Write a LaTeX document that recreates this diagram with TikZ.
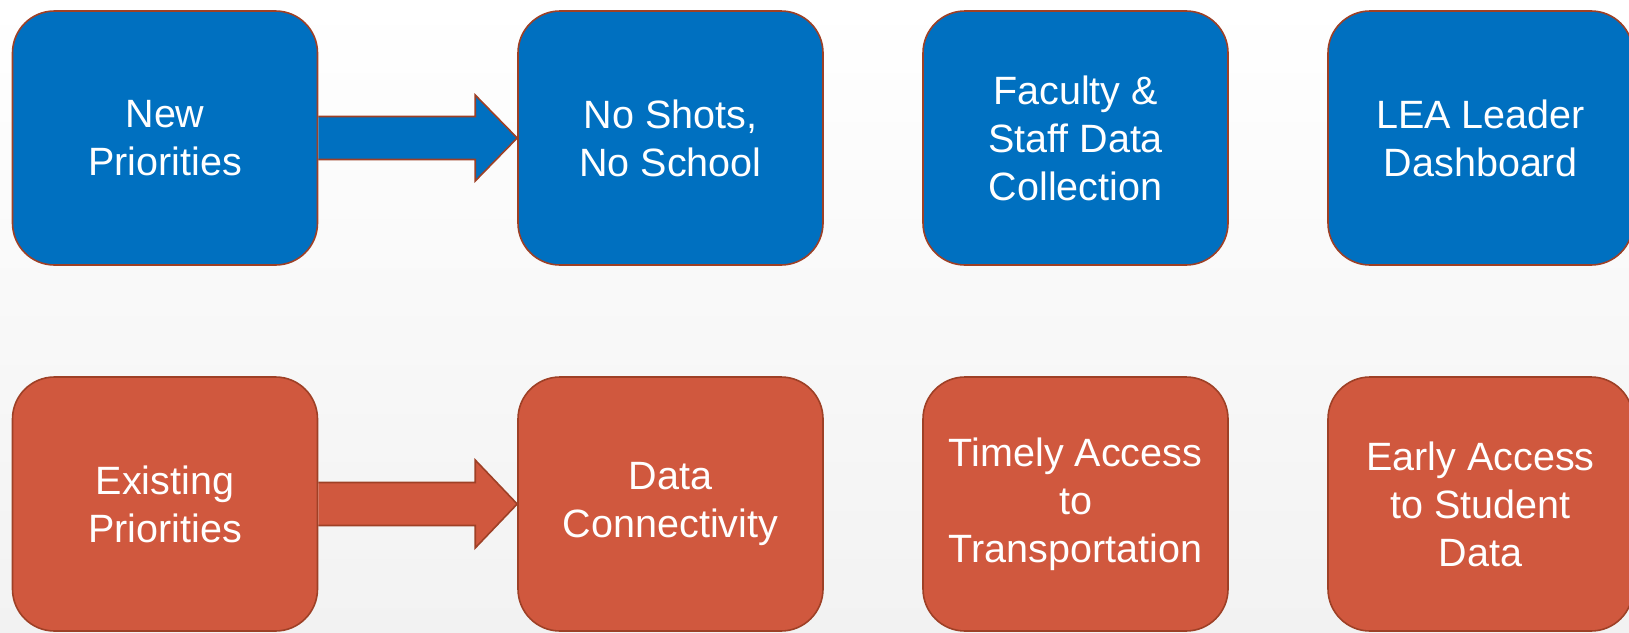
\documentclass[tikz,border=0pt]{standalone}
\usepackage{fontspec}
\setmainfont{Liberation Sans}
\usetikzlibrary{calc}
\definecolor{boxblue}{RGB}{0,112,192}
\definecolor{boxorange}{RGB}{208,88,62}
\definecolor{boxedge}{RGB}{158,64,38}
\definecolor{bgbot}{RGB}{242,242,242}
\tikzset{
  prio/.style={rectangle, rounded corners=42pt, minimum width=305pt, minimum height=254pt,
    draw=boxedge, line width=1.6pt, text=white, align=center, inner sep=0pt,
    font=\fontsize{39.5}{48}\selectfont},
  newprio/.style={prio, fill=boxblue},
  oldprio/.style={prio, fill=boxorange},
  blockarrow/.style={draw=boxedge, line width=1.6pt, line join=miter}
}
\begin{document}
\begin{tikzpicture}[x=1pt,y=-1pt]
\useasboundingbox (0,0) rectangle (1629,632);
\shade[top color=white, bottom color=bgbot] (0,0) rectangle (1629,632);
\clip (0,0) rectangle (1629,632);
% top row
\node[newprio] (n1) at (165,138) {New\\Priorities};
\node[newprio] (n2) at (670.5,138) {No Shots,\\No School};
\node[newprio] (n3) at (1075.5,138) {Faculty \&\\Staff Data\\Collection};
\node[newprio] (n4) at (1480.5,138) {LEA Leader\\Dashboard};
% bottom row
\node[oldprio] (e1) at (165,504) {Existing\\Priorities};
\node[oldprio] (e2) at (670.5,504) {Data\\Connectivity};
\node[oldprio] (e3) at (1075.5,504) {Timely Access\\to\\Transportation};
\node[oldprio] (e4) at (1480.5,504) {Early Access\\to Student\\Data};
% block arrows
\filldraw[blockarrow, fill=boxblue]
  ($(n1.east)+(0,-21.5)$) -- ($(n2.west)+(-42,-21.5)$) -- ($(n2.west)+(-42,-43)$)
  -- (n2.west) -- ($(n2.west)+(-42,43)$) -- ($(n2.west)+(-42,21.5)$)
  -- ($(n1.east)+(0,21.5)$);
\filldraw[blockarrow, fill=boxorange]
  ($(e1.east)+(0,-21.5)$) -- ($(e2.west)+(-42,-21.5)$) -- ($(e2.west)+(-42,-44)$)
  -- (e2.west) -- ($(e2.west)+(-42,44)$) -- ($(e2.west)+(-42,21.5)$)
  -- ($(e1.east)+(0,21.5)$);
\end{tikzpicture}
\end{document}
